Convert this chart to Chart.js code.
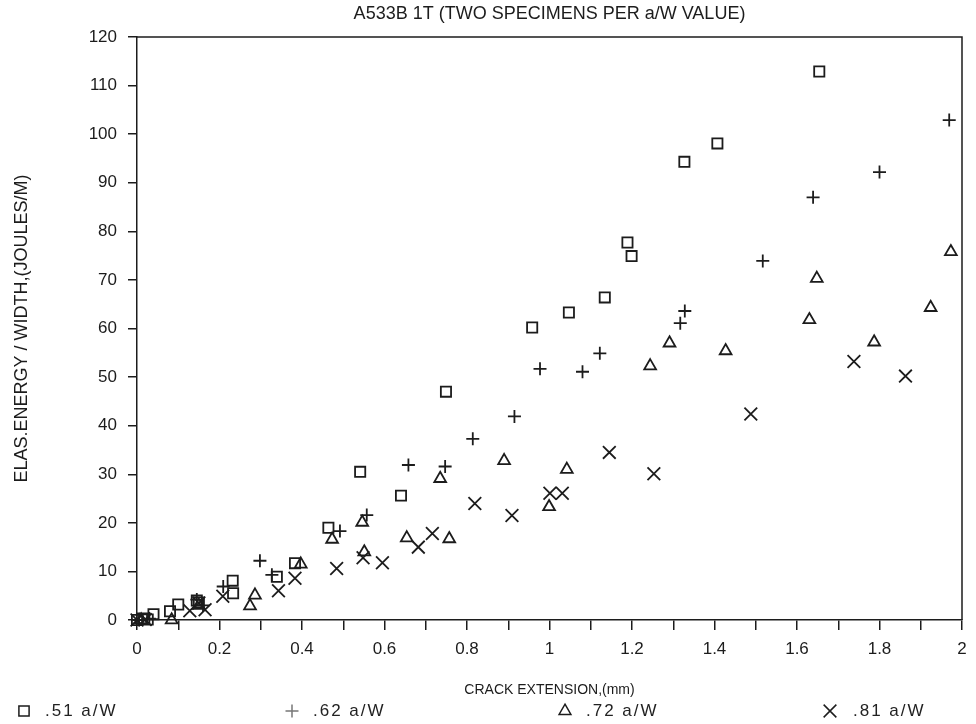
<!DOCTYPE html>
<html><head><meta charset="utf-8">
<script src="https://cdn.jsdelivr.net/npm/chart.js@4.4.0/dist/chart.umd.min.js"></script>
<style>
html,body{margin:0;padding:0;background:#fff;}
#wrap{position:relative;width:976px;height:724px;overflow:hidden;}
#c{position:absolute;left:0;top:0;}
.leg{position:absolute;top:701px;font:17px "Liberation Sans",Arial,sans-serif;letter-spacing:2px;color:#222;white-space:nowrap;line-height:20px;}
</style></head><body>
<div id="wrap"><canvas id="c" width="976" height="724"></canvas><div id="legend"></div></div>
<script>
// ---- data ----
const TITLE = 'A533B 1T (TWO SPECIMENS PER a/W VALUE)';
const X_TITLE = 'CRACK EXTENSION,(mm)';
const Y_TITLE = 'ELAS.ENERGY / WIDTH,(JOULES/M)';
const seriesLabels = ['.51 a/W', '.62 a/W', '.72 a/W', '.81 a/W'];
const xTickLabels = ['0','0.2','0.4','0.6','0.8','1','1.2','1.4','1.6','1.8','2'];
const yTickLabels = ['0','10','20','30','40','50','60','70','80','90','100','110','120'];

const s51x = [0.00,0.012,0.026,0.040,0.080,0.100,0.145,0.150,0.233,0.232,0.339,0.383,0.464,0.541,0.640,0.749,0.958,1.047,1.134,1.189,1.199,1.327,1.407,1.654];
const s51y = [0.0,0.3,0.1,1.2,1.8,3.2,4.0,3.6,5.5,8.1,8.9,11.7,19.0,30.5,25.6,47.0,60.2,63.3,66.4,77.7,74.9,94.3,98.1,112.9];

const s62x = [0.005,0.030,0.145,0.160,0.209,0.298,0.327,0.492,0.557,0.658,0.747,0.814,0.915,0.977,1.080,1.122,1.317,1.328,1.517,1.639,1.800,1.969];
const s62y = [0.0,0.3,4.2,3.0,6.9,12.2,9.3,18.3,21.6,31.9,31.6,37.3,41.9,51.7,51.1,54.9,61.1,63.6,73.9,87.0,92.2,102.9];

const s72x = [0.010,0.084,0.150,0.274,0.286,0.397,0.473,0.546,0.551,0.654,0.735,0.757,0.890,0.999,1.042,1.244,1.291,1.427,1.630,1.648,1.787,1.924,1.973];
const s72y = [0.0,0.0,3.0,2.9,5.1,11.5,16.6,20.1,14.0,16.9,29.1,16.7,32.8,23.3,31.0,52.3,57.0,55.4,61.8,70.3,57.2,64.3,75.8];

const s81x = [0.000,0.020,0.128,0.150,0.165,0.208,0.343,0.383,0.484,0.548,0.595,0.682,0.716,0.819,0.909,1.001,1.031,1.145,1.253,1.488,1.738,1.863];
const s81y = [0.0,0.1,1.9,3.5,2.1,4.9,6.0,8.6,10.6,12.8,11.8,15.0,17.8,24.0,21.5,26.1,26.1,34.5,30.1,42.4,53.2,50.2];

// ---- styling ----
const INK = '#1c1c1c';
const FONT = '"Liberation Sans", Arial, sans-serif';
const styles = [
  {pointStyle:'rect', radius:7.2},
  {pointStyle:'cross', radius:6.5},
  {pointStyle:'triangle', radius:6.8},
  {pointStyle:'crossRot', radius:9}
];
const legendMarkerX = [24, 292, 565, 830];
const legendMarkerColor = [INK, '#777', INK, INK];
const legendTextX = [45, 313, 586, 853];
const LEGEND_Y = 711;

const seriesX = [s51x, s62x, s72x, s81x];
const seriesY = [s51y, s62y, s72y, s81y];

const datasets = seriesLabels.map((lab, i) => ({
  label: lab,
  data: seriesX[i].map((x, j) => ({x: x, y: seriesY[i][j]})),
  pointStyle: styles[i].pointStyle,
  pointRadius: styles[i].radius,
  pointBorderColor: INK,
  pointBackgroundColor: 'rgba(0,0,0,0)',
  pointBorderWidth: 1.8,
  showLine: false,
  clip: false
}));

const framePlugin = {
  id: 'frame',
  afterDatasetsDraw(chart) {
    const a = chart.chartArea, ctx = chart.ctx;
    ctx.save();
    ctx.strokeStyle = INK; ctx.lineWidth = 1.5;
    ctx.beginPath();
    ctx.moveTo(a.left, a.top); ctx.lineTo(a.right, a.top); ctx.lineTo(a.right, a.bottom);
    ctx.stroke();
    ctx.restore();
  }
};
const legendMarkers = {
  id: 'legendMarkers',
  afterDraw(chart) {
    const ctx = chart.ctx;
    styles.forEach((s, i) => {
      ctx.save();
      ctx.strokeStyle = legendMarkerColor[i]; ctx.fillStyle = 'rgba(0,0,0,0)'; ctx.lineWidth = 1.5;
      Chart.helpers.drawPoint(ctx, {pointStyle: s.pointStyle, radius: s.radius, rotation: 0, borderWidth: 1.5}, legendMarkerX[i], LEGEND_Y);
      ctx.restore();
    });
  }
};

const leg = document.getElementById('legend');
seriesLabels.forEach((lab, i) => {
  const d = document.createElement('div');
  d.className = 'leg';
  d.style.left = legendTextX[i] + 'px';
  d.textContent = lab;
  leg.appendChild(d);
});

new Chart(document.getElementById('c'), {
  type: 'scatter',
  data: {datasets},
  options: {
    responsive: false,
    animation: false,
    layout: {padding: {left: 0, right: 14, top: 0, bottom: 24}},
    plugins: {
      legend: {display: false},
      tooltip: {enabled: false}
    },
    scales: {
      top: {
        type: 'linear', position: 'top', min: 0, max: 2,
        ticks: {display: false},
        grid: {display: false, drawTicks: false},
        border: {display: false},
        title: {display: true, text: TITLE, color: INK, font: {family: FONT, size: 18}, padding: {top: 3, bottom: 0}},
        afterFit(s) { s.height = 37; }
      },
      x: {
        type: 'linear', position: 'bottom', min: 0, max: 2,
        ticks: {
          stepSize: 0.1, autoSkip: false, maxRotation: 0, color: INK, padding: 9,
          font: {family: FONT, size: 17},
          callback: (v) => { const k = Math.round(v * 10); return k % 2 === 0 ? xTickLabels[k / 2] : ''; }
        },
        grid: {drawOnChartArea: false, drawTicks: true, tickLength: 10, color: INK, lineWidth: 1.5},
        border: {display: true, color: INK, width: 1.5},
        title: {display: true, text: X_TITLE, color: INK, font: {family: FONT, size: 14}, padding: {top: 0, bottom: 1}},
        afterFit(s) { s.height = 80; }
      },
      y: {
        type: 'linear', min: 0, max: 120,
        ticks: {
          stepSize: 10, color: INK, padding: 11,
          font: {family: FONT, size: 17},
          callback: (v) => yTickLabels[Math.round(v / 10)]
        },
        grid: {drawOnChartArea: false, drawTicks: true, tickLength: 9, color: INK, lineWidth: 1.5},
        border: {display: true, color: INK, width: 1.5},
        title: {display: true, text: Y_TITLE, color: INK, font: {family: FONT, size: 18}, padding: {top: 11, bottom: 0}},
        afterFit(s) { s.width = 137; }
      }
    }
  },
  plugins: [framePlugin, legendMarkers]
});
</script>
</body></html>
